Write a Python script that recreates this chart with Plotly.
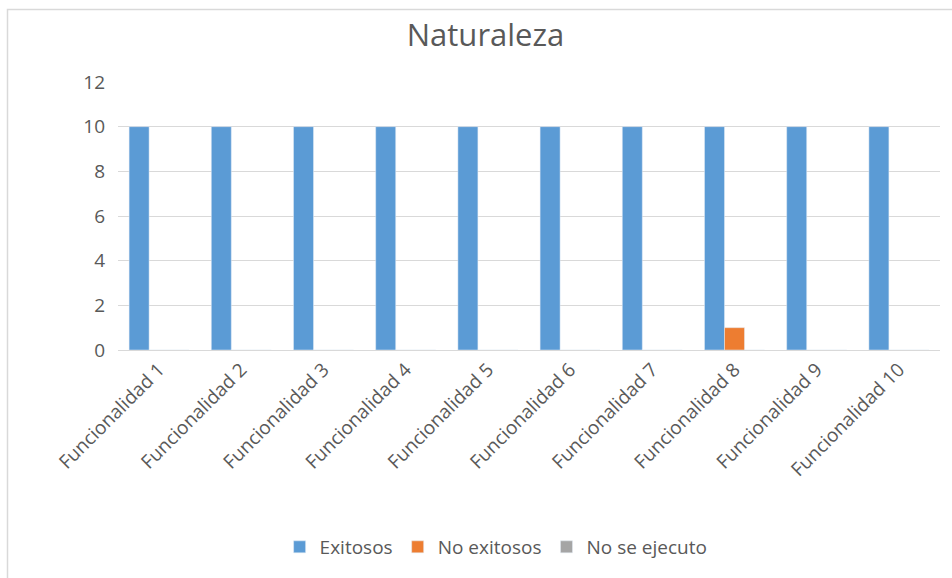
import plotly.graph_objects as go

categorias = [f"Funcionalidad {i}" for i in range(1, 11)]
exitosos = [10, 10, 10, 10, 10, 10, 10, 10, 10, 10]
no_exitosos = [0, 0, 0, 0, 0, 0, 0, 1, 0, 0]
no_se_ejecuto = [0, 0, 0, 0, 0, 0, 0, 0, 0, 0]

colors = {
    'exitosos': '#5B9BD5',
    'no_exitosos': '#ED7D31',
    'no_se_ejecuto': '#A5A5A5',
    'text': '#595959',
    'grid': '#D9D9D9',
}
font = "Open Sans"

fig = go.Figure()
fig.add_trace(go.Bar(name="Exitosos", x=categorias, y=exitosos,
                     marker_color=colors['exitosos']))
fig.add_trace(go.Bar(name="No exitosos", x=categorias, y=no_exitosos,
                     marker_color=colors['no_exitosos']))
fig.add_trace(go.Bar(name="No se ejecuto", x=categorias, y=no_se_ejecuto,
                     marker_color=colors['no_se_ejecuto']))

fig.update_layout(
    width=952,
    height=578,
    barmode='group',
    bargap=0.27,
    bargroupgap=0,
    plot_bgcolor='white',
    paper_bgcolor='white',
    font=dict(family=font, color=colors['text'], size=18),
    title=dict(text="Naturaleza", x=0.51, xanchor='center', xref='container',
               y=1 - 35 / 578, yanchor='middle', yref='container',
               font=dict(size=31, color=colors['text'])),
    margin=dict(l=118, r=12, t=82, b=228),
    legend=dict(orientation='h', x=0.46, xanchor='center', y=-0.735, yanchor='middle',
                font=dict(size=19), traceorder='normal'),
)
fig.update_xaxes(tickangle=-45, showgrid=False, showline=True, linecolor=colors['grid'],
                 ticks='', tickfont=dict(size=19))
fig.update_yaxes(range=[0, 12], dtick=2, showgrid=True, gridcolor=colors['grid'],
                 zeroline=False, showline=False, ticklabelstandoff=12,
                 tickfont=dict(size=19))
# marco del gráfico (los bordes derecho e inferior quedan fuera de la imagen)
fig.add_shape(type='rect', xref='paper', yref='paper',
              x0=-110.5 / 822, x1=840 / 822, y0=-235 / 268, y1=72.5 / 268 + 1,
              line=dict(color='#D9D9D9', width=1.5))

fig.write_html("out.html", config={'displayModeBar': False},
               post_script="document.body.style.margin='0';")
